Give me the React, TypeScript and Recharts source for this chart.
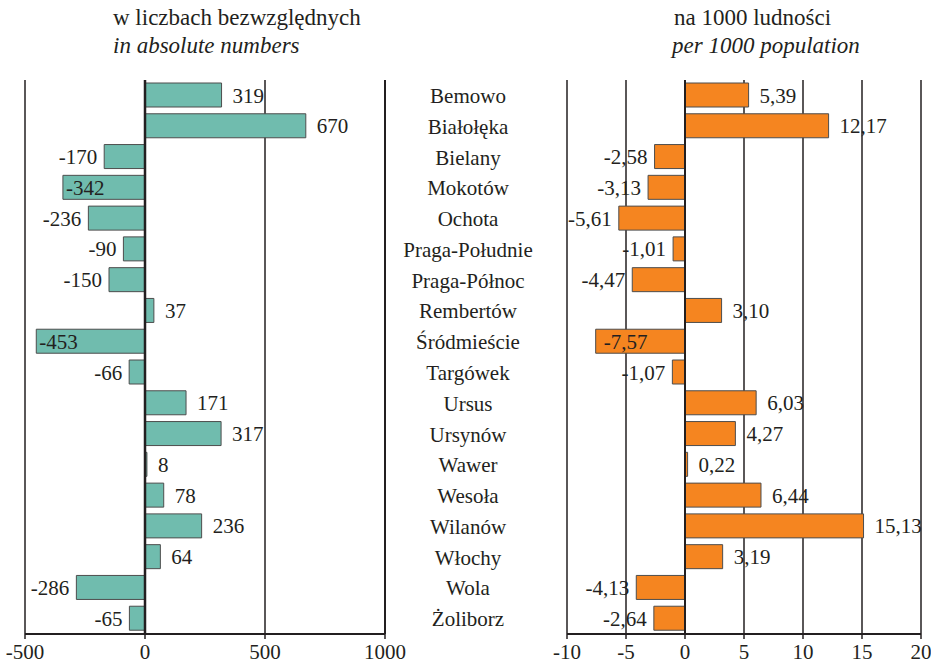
import React from "react";
import {
  BarChart,
  Bar,
  XAxis,
  YAxis,
  CartesianGrid,
  ReferenceLine,
  LabelList,
} from "recharts";

const districts = [
  "Bemowo",
  "Białołęka",
  "Bielany",
  "Mokotów",
  "Ochota",
  "Praga-Południe",
  "Praga-Północ",
  "Rembertów",
  "Śródmieście",
  "Targówek",
  "Ursus",
  "Ursynów",
  "Wawer",
  "Wesoła",
  "Wilanów",
  "Włochy",
  "Wola",
  "Żoliborz",
];

const absoluteValues = [319, 670, -170, -342, -236, -90, -150, 37, -453, -66, 171, 317, 8, 78, 236, 64, -286, -65];
const perThousandValues = [
  5.39, 12.17, -2.58, -3.13, -5.61, -1.01, -4.47, 3.1, -7.57, -1.07, 6.03, 4.27, 0.22, 6.44, 15.13, 3.19, -4.13, -2.64,
];

const absoluteTicks = [-500, 0, 500, 1000];
const perThousandTicks = [-10, -5, 0, 5, 10, 15, 20];

// labels that sit inside the bar instead of beside it
const insideAbsolute = ["Mokotów", "Śródmieście"];
const insidePerThousand = ["Śródmieście"];

const data = districts.map((name, i) => ({
  name,
  abs: absoluteValues[i],
  per: perThousandValues[i],
}));

const FONT = "Liberation Serif, Times New Roman, Tinos, DejaVu Serif, serif";
const INK = "#231f20";
const TEAL = "#70bcae";
const ORANGE = "#f58520";

const fmtAbs = (v: number) => String(v);
const fmtPer = (v: number) => v.toFixed(2).replace(".", ",");

function makeLabel(format: (v: number) => string, inside: string[], pad: number) {
  return (props: any) => {
    const { x, y, width, height, value, index } = props;
    const left = Math.min(x, x + width);
    const right = Math.max(x, x + width);
    const cy = y + height / 2;
    const name = districts[index];
    let tx = value >= 0 ? right + 11 : left - 7;
    let anchor: "start" | "end" = value >= 0 ? "start" : "end";
    if (inside.includes(name)) {
      tx = left + pad;
      anchor = "start";
    }
    return (
      <text x={tx} y={cy} dy="0.36em" textAnchor={anchor} style={{ fontFamily: FONT, fontSize: 21 }} fill={INK}>
        {format(value)}
      </text>
    );
  };
}

function DistrictTick(props: any) {
  const { x, y, payload } = props;
  return (
    <text x={x + 83} y={y} dy="0.36em" textAnchor="middle" style={{ fontFamily: FONT, fontSize: 21 }} fill={INK}>
      {payload.value}
    </text>
  );
}

const tickStyle = { fill: INK, fontSize: 21, fontFamily: FONT };

export default function App() {
  return (
    <div style={{ position: "absolute", left: 0, top: 0, width: 931, height: 666, background: "#fff", fontFamily: FONT }}>
      <div style={{ position: "absolute", left: 113, top: 4, fontSize: 23, lineHeight: "28px", color: INK }}>
        <div>w liczbach bezwzględnych</div>
        <div style={{ fontStyle: "italic" }}>in absolute numbers</div>
      </div>
      <div style={{ position: "absolute", left: 672, top: 4, fontSize: 23, lineHeight: "28px", color: INK }}>
        <div style={{ paddingLeft: 2 }}>na 1000 ludności</div>
        <div style={{ fontStyle: "italic" }}>per 1000 population</div>
      </div>

      <div style={{ position: "absolute", left: 0, top: 0 }}>
        <BarChart
          width={567}
          height={666}
          data={data}
          layout="vertical"
          margin={{ top: 80, right: 0, bottom: 2, left: 25 }}
        >
          <CartesianGrid horizontal={false} stroke={INK} strokeWidth={1.5} />
          <XAxis
            type="number"
            domain={[-500, 1000]}
            ticks={absoluteTicks}
            tick={tickStyle}
            tickSize={5}
            tickMargin={5}
            height={30}
            axisLine={{ stroke: INK, strokeWidth: 2 }}
            tickLine={{ stroke: INK, strokeWidth: 1.5 }}
          />
          <XAxis
            xAxisId="top"
            orientation="top"
            type="number"
            domain={[-500, 1000]}
            tick={false}
            tickLine={false}
            height={0}
            axisLine={{ stroke: INK, strokeWidth: 2 }}
          />
          <YAxis
            type="category"
            dataKey="name"
            orientation="right"
            width={182}
            interval={0}
            tickSize={0}
            tickMargin={0}
            tickLine={false}
            axisLine={{ stroke: INK, strokeWidth: 2 }}
            tick={<DistrictTick />}
          />
          <Bar dataKey="abs" fill={TEAL} stroke="#4d4d4d" strokeWidth={1} barSize={24} isAnimationActive={false}>
            <LabelList dataKey="abs" content={makeLabel(fmtAbs, insideAbsolute, 3)} />
          </Bar>
          <ReferenceLine x={0} stroke={INK} strokeWidth={2.5} />
        </BarChart>
      </div>

      <div style={{ position: "absolute", left: 537, top: 0 }}>
        <BarChart
          width={394}
          height={666}
          data={data}
          layout="vertical"
          margin={{ top: 80, right: 10, bottom: 2, left: 30 }}
        >
          <CartesianGrid horizontal={false} stroke={INK} strokeWidth={1.5} />
          <XAxis
            type="number"
            domain={[-10, 20]}
            ticks={perThousandTicks}
            tick={tickStyle}
            tickSize={5}
            tickMargin={5}
            height={30}
            interval={0}
            axisLine={{ stroke: INK, strokeWidth: 2 }}
            tickLine={{ stroke: INK, strokeWidth: 1.5 }}
          />
          <XAxis
            xAxisId="top"
            orientation="top"
            type="number"
            domain={[-10, 20]}
            tick={false}
            tickLine={false}
            height={0}
            axisLine={{ stroke: INK, strokeWidth: 2 }}
          />
          <YAxis type="category" dataKey="name" hide />
          <Bar dataKey="per" fill={ORANGE} stroke="#4d4d4d" strokeWidth={1} barSize={24} isAnimationActive={false}>
            <LabelList dataKey="per" content={makeLabel(fmtPer, insidePerThousand, 8)} />
          </Bar>
          <ReferenceLine x={0} stroke={INK} strokeWidth={2} />
        </BarChart>
      </div>
    </div>
  );
}
